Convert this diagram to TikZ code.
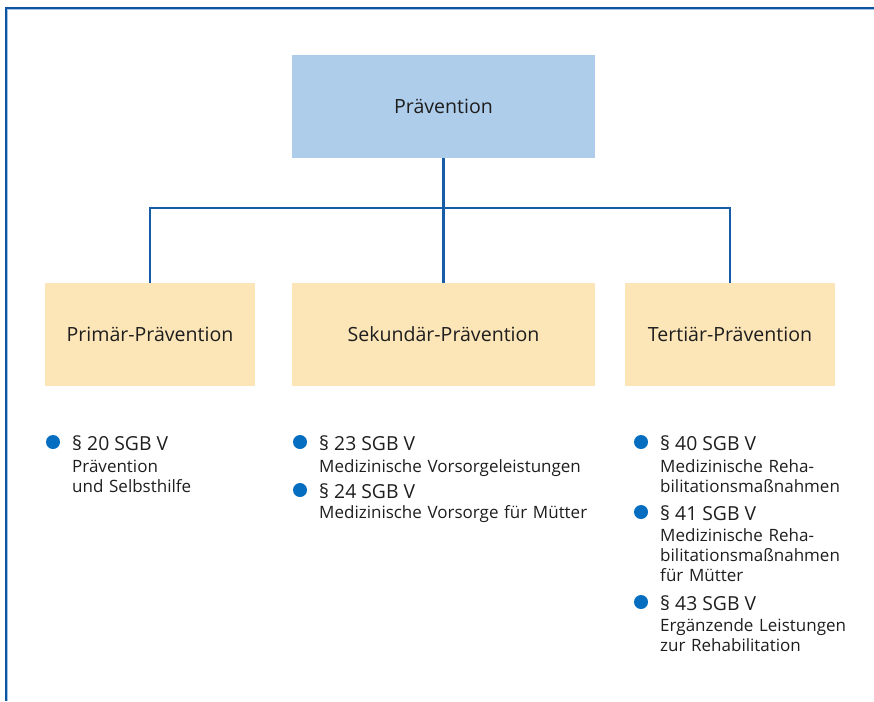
\documentclass[tikz,border=0pt]{standalone}
\usepackage{fontspec}
\setmainfont{Open Sans}

\definecolor{frameblue}{RGB}{14,84,160}
\definecolor{frameshade}{RGB}{160,195,232}
\definecolor{linkblue}{RGB}{22,92,166}
\definecolor{dotblue}{RGB}{6,110,192}
\definecolor{headfill}{RGB}{174,205,235}
\definecolor{subfill}{RGB}{252,229,183}
\definecolor{inkgray}{RGB}{30,30,30}

\tikzset{
  headbox/.style={fill=headfill,minimum width=9.09cm,minimum height=3.09cm,
    text=inkgray,font=\fontsize{16.7}{19}\selectfont},
  subbox/.style={fill=subfill,minimum width=6.3cm,minimum height=3.09cm,
    text=inkgray,font=\fontsize{16.7}{19}\selectfont},
  widebox/.style={subbox,minimum width=9.09cm},
  link/.style={draw=linkblue,line width=2pt},
  dot/.style={circle,fill=dotblue,inner sep=0pt,minimum size=0.42cm},
  para/.style={anchor=base west,inner sep=0pt,text=inkgray,
    font=\fontsize{16.5}{19}\selectfont},
  note/.style={anchor=base west,inner sep=0pt,text=inkgray,text width=9cm,
    align=left,font=\fontsize{14.5}{17}\selectfont}
}

\begin{document}
\begin{tikzpicture}[x=0.03cm,y=-0.03cm]
\path[use as bounding box] (0,0) rectangle (874,701);
% frame
\draw[frameshade,line width=1pt] (7.5,701) -- (7.5,9.5) -- (874,9.5);
\draw[frameblue,line width=1.4pt] (6,701) -- (6,8) -- (874,8);

% boxes
\node[headbox] (top) at (443.5,106.5) {Prävention};
\node[subbox] (prim) at (150,334.5) {Primär-Prävention};
\node[widebox] (sek) at (443.5,334.5) {Sekundär-Prävention};
\node[subbox] (tert) at (730,334.5) {Tertiär-Prävention};

% connectors
\coordinate (branch) at (443.5,208);
\draw[link] (top) -- (sek);
\draw[link] (prim.north) |- (branch) -| (tert.north);

% Primär
\node[dot] (p20dot) at (53,442) {};
\node[para] (p20) at (72,450) {§ 20 SGB V};
\node[note] (p20txt) at (72,472.5) {Prävention\\und Selbsthilfe};

% Sekundär
\node[dot] (p23dot) at (300,442) {};
\node[para] (p23) at (319,450) {§ 23 SGB V};
\node[note] (p23txt) at (319,472.5) {Medizinische Vorsorgeleistungen};
\node[dot] (p24dot) at (300,490) {};
\node[para] (p24) at (319,498) {§ 24 SGB V};
\node[note] (p24txt) at (319,518.5) {Medizinische Vorsorge für Mütter};

% Tertiär
\node[dot] (p40dot) at (641,442) {};
\node[para] (p40) at (660,450) {§ 40 SGB V};
\node[note] (p40txt) at (660,472.5) {Medizinische Reha-\\bilitationsmaßnahmen};
\node[dot] (p41dot) at (641,512) {};
\node[para] (p41) at (660,520) {§ 41 SGB V};
\node[note] (p41txt) at (660,541.5) {Medizinische Reha-\\bilitationsmaßnahmen\\für Mütter};
\node[dot] (p43dot) at (641,602) {};
\node[para] (p43) at (660,610) {§ 43 SGB V};
\node[note] (p43txt) at (660,631.5) {Ergänzende Leistungen\\zur Rehabilitation};
\end{tikzpicture}
\end{document}
